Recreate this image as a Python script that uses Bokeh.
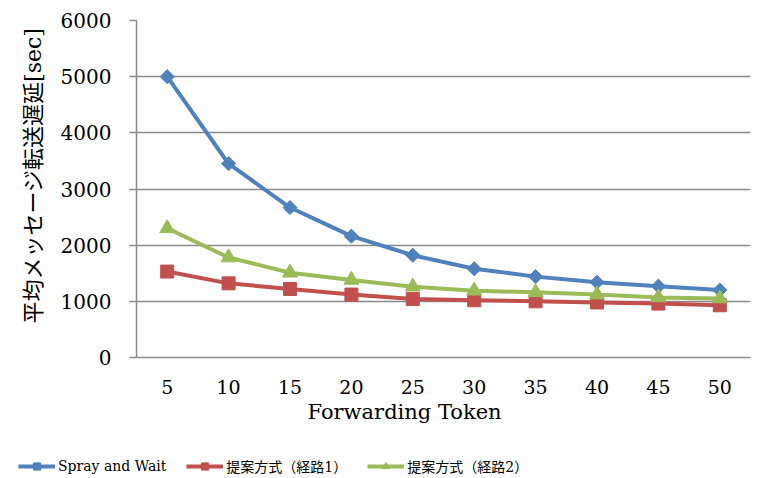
from bokeh.plotting import figure
from bokeh.layouts import column
from bokeh.models import (ColumnDataSource, FactorRange, Range1d, FixedTicker,
                          Legend, LegendItem, Title)
from bokeh.embed import file_html
from bokeh.resources import INLINE
import math

categories = ["5", "10", "15", "20", "25", "30", "35", "40", "45", "50"]
spray_and_wait = [5000, 3450, 2670, 2160, 1820, 1580, 1440, 1340, 1270, 1200]
proposed_route1 = [1530, 1320, 1220, 1120, 1040, 1020, 1000, 980, 960, 930]
proposed_route2 = [2300, 1780, 1510, 1380, 1260, 1190, 1160, 1120, 1070, 1050]
y_ticks = [0, 1000, 2000, 3000, 4000, 5000, 6000]

series_names = ["Spray and Wait", "提案方式（経路1）", "提案方式（経路2）"]
x_title = "Forwarding Token"
y_title = "平均メッセージ転送遅延[sec]"

FONT = "DejaVu Serif, Noto Sans CJK JP"
GRAY = "#8a8a8a"
BLUE = "#4F81BD"
RED = "#C0504D"
GREEN = "#9BBB59"
styles = [dict(color=BLUE, marker="square", size=10, angle=math.pi / 4),
          dict(color=RED, marker="square", size=13, angle=0),
          dict(color=GREEN, marker="triangle", size=15, angle=0)]

src = ColumnDataSource(dict(x=categories, s1=spray_and_wait,
                            s2=proposed_route1, s3=proposed_route2))

p = figure(width=761, height=446, x_range=FactorRange(*categories),
           y_range=Range1d(0, 6000), output_backend="svg",
           toolbar_location=None, min_border_left=136, min_border_right=11,
           min_border_top=20, min_border_bottom=89)
p.outline_line_color = None
p.background_fill_color = "white"
p.border_fill_color = "white"
p.frame_align = False

# grid
p.xgrid.grid_line_color = None
p.ygrid.grid_line_color = GRAY
p.ygrid.grid_line_width = 1.5
p.yaxis.ticker = FixedTicker(ticks=y_ticks)

# y axis
p.yaxis.axis_line_color = GRAY
p.yaxis.axis_line_width = 1.5
p.yaxis.major_tick_line_color = GRAY
p.yaxis.major_tick_line_width = 1.5
p.yaxis.major_tick_out = 7
p.yaxis.major_tick_in = 0
p.yaxis.minor_tick_line_color = None
p.yaxis.major_label_standoff = 18
p.yaxis.major_label_text_font = FONT
p.yaxis.major_label_text_font_size = "20px"
p.yaxis.major_label_text_color = "#000000"

# x axis
p.xaxis.axis_line_color = GRAY
p.xaxis.axis_line_width = 1.5
p.xaxis.major_tick_line_color = None
p.xaxis.major_tick_out = 0
p.xaxis.major_tick_in = 0
p.xaxis.minor_tick_line_color = None
p.xaxis.major_label_standoff = 22
p.xaxis.major_label_text_font = FONT
p.xaxis.major_label_text_font_size = "19px"
p.xaxis.major_label_text_color = "#000000"

# axis titles as side-panel titles
yt = Title(text=y_title, align="left", offset=34, standoff=24,
           text_font=FONT, text_font_size="22px", text_font_style="normal",
           text_color="#000000")
p.add_layout(yt, "left")
xt = Title(text=x_title, align="left", offset=171, standoff=2,
           text_font=FONT, text_font_size="21px", text_font_style="normal",
           text_color="#000000")
p.add_layout(xt, "below")

cols = ["s1", "s2", "s3"]
for c, st in zip(cols, styles):
    p.line("x", c, source=src, line_color=st["color"], line_width=4)
    p.scatter("x", c, source=src, marker=st["marker"], size=st["size"],
              angle=st["angle"], fill_color=st["color"], line_color=st["color"])

# legend strip beneath the chart (its renderers hold no visible data)
lf = figure(width=761, height=32, x_range=Range1d(0, 1), y_range=Range1d(0, 1),
            output_backend="svg", toolbar_location=None, min_border=0)
lf.axis.visible = False
lf.grid.visible = False
lf.outline_line_color = None
lf.frame_align = False
nan = float("nan")
items = []
for name, st in zip(series_names, styles):
    lr = lf.line(x=[nan], y=[nan], line_color=st["color"], line_width=4)
    ms = lf.scatter(x=[nan], y=[nan], marker=st["marker"],
                    size=st["size"] * 0.75, angle=st["angle"],
                    fill_color=st["color"], line_color=st["color"])
    items.append(LegendItem(label=name, renderers=[lr, ms]))
legend = Legend(items=items, orientation="horizontal", location=(18, 2),
                glyph_width=37, glyph_height=18, label_height=18,
                label_standoff=3, spacing=20, padding=0, margin=0,
                label_text_font=FONT, label_text_font_size="14px",
                label_text_color="#000000", border_line_color=None,
                background_fill_alpha=0)
lf.add_layout(legend, "center")

open("out.html", "w").write(file_html(column(p, lf, spacing=0), INLINE))
